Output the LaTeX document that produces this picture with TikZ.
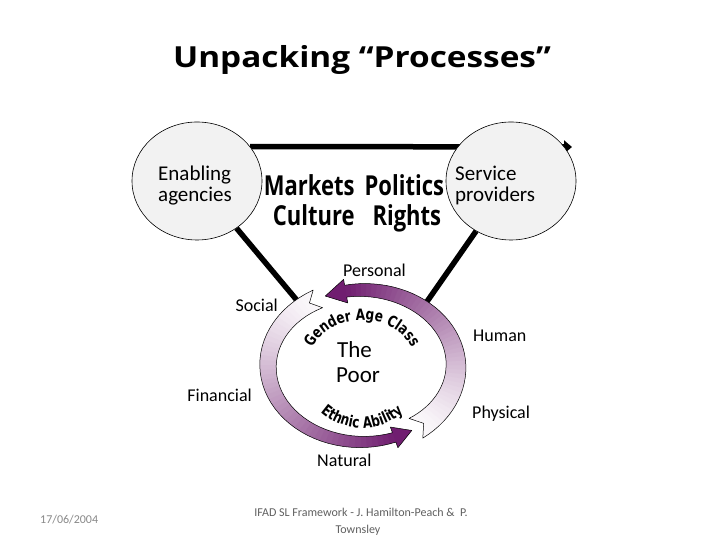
\documentclass[tikz,border=0pt]{standalone}
\usepackage{fontspec}
\setmainfont{Carlito}
\newfontfamily\titlefont[FakeStretch=1.15]{Open Sans}
\newfontfamily\wordfont[FakeStretch=0.8]{Open Sans}
\newfontfamily\curvefont[FakeStretch=0.78]{DejaVu Sans}
\usetikzlibrary{arrows.meta,backgrounds,shapes.geometric,decorations.text}
\definecolor{ringpurple}{RGB}{112,30,112}
\definecolor{ringlight}{RGB}{250,247,250}
\definecolor{discfill}{RGB}{242,242,242}
\definecolor{footgray}{RGB}{96,96,96}
\definecolor{dategray}{RGB}{137,137,137}
\tikzset{
  disc/.style={ellipse, draw, line width=0.6pt, fill=discfill,
    minimum width=130pt, minimum height=118pt, inner sep=0pt},
  tie/.style={line width=5.5pt},
  ringedge/.style={draw=black, line width=0.5pt, line join=round},
  titletext/.style={font=\titlefont\bfseries\fontsize{29}{29}\selectfont, anchor=base, inner sep=0pt},
  wordtext/.style={font=\wordfont\bfseries\fontsize{27.5}{27.5}\selectfont, anchor=base, inner sep=0pt},
  bigtext/.style={font=\fontsize{21}{21}\selectfont, anchor=base west, inner sep=0pt},
  lbl/.style={font=\fontsize{18}{18}\selectfont, inner sep=0pt},
  poortext/.style={font=\fontsize{23}{23}\selectfont, anchor=base west, inner sep=0pt},
  foottext/.style={font=\fontsize{12}{12}\selectfont, inner sep=0pt, text=footgray},
}
\newcommand\curvestyle{\curvefont\bfseries\fontsize{15.5}{15.5}\selectfont}
% band arrow on the ring: tail angle, head angle, tip angle, tail width, head width
\newcommand\ringarrow[5]{%
  \pgfmathsetmacro\tn{#1+6}
  \fill[ringlight] (#1:{94+#4/2} and {76+#4/2}) -- (\tn:{94+#4/2} and {76+#4/2})
    -- (\tn:{94-#4/2} and {76-#4/2}) -- (#1:{94-#4/2} and {76-#4/2}) -- (\tn:94 and 76) -- cycle;
  \foreach \i in {0,...,47}{
    \pgfmathsetmacro\ta{\tn+(#2-(\tn))*\i/48}
    \pgfmathsetmacro\tb{\tn+(#2-(\tn))*(\i+1)/48+0.4}
    \pgfmathsetmacro\wa{#5+(#4-#5)*(#2-(\ta))/(#2-(#1))}
    \pgfmathsetmacro\wb{#5+(#4-#5)*(#2-(\tb))/(#2-(#1))}
    \pgfmathsetmacro\mx{100*((\i+0.5)/48)^1.2}
    \fill[ringpurple!\mx!ringlight] (\ta:{94+\wa/2} and {76+\wa/2}) -- (\tb:{94+\wb/2} and {76+\wb/2})
      -- (\tb:{94-\wb/2} and {76-\wb/2}) -- (\ta:{94-\wa/2} and {76-\wa/2}) -- cycle;
  }
  \fill[ringpurple] (#2:{94+#5/2+6} and {76+#5/2+6}) -- (#3:94 and 76) -- (#2:{94-#5/2-6} and {76-#5/2-6}) -- cycle;
  \draw[ringedge] (#1:{94+#4/2} and {76+#4/2})
    -- plot[domain=#1:#2, samples=40, variable=\ang]
       (\ang:{94+(#5+(#4-#5)*(#2-(\ang))/(#2-(#1)))/2} and {76+(#5+(#4-#5)*(#2-(\ang))/(#2-(#1)))/2})
    -- (#2:{94+#5/2+6} and {76+#5/2+6}) -- (#3:94 and 76) -- (#2:{94-#5/2-6} and {76-#5/2-6})
    -- plot[domain=#2:#1, samples=40, variable=\ang]
       (\ang:{94-(#5+(#4-#5)*(#2-(\ang))/(#2-(#1)))/2} and {76-(#5+(#4-#5)*(#2-(\ang))/(#2-(#1)))/2})
    -- (\tn:94 and 76) -- cycle;
}

\begin{document}
\begin{tikzpicture}[x=1pt, y=1pt]
  \useasboundingbox (0,0) rectangle (720,540);
  \node[titletext] (title) at (362,472) {Unpacking “Processes”};
  % agencies and providers
  \node[disc] (enab) at (197,359) {};
  \node[disc] (serv) at (511,359) {};
  \node[bigtext] (enabA) at (158,359) {Enabling};
  \node[bigtext] (enabB) at (158,338) {agencies};
  \node[bigtext] (servA) at (455,359) {Service};
  \node[bigtext] (servB) at (455,338) {providers};
  \node[wordtext] (mkt) at (354,344) {Markets\hspace{10pt}Politics};
  \node[wordtext] (cult) at (357,314) {Culture\hspace{18pt}Rights};
  % links, behind the discs
  \coordinate (topend) at (572,393);
  \coordinate (ringL) at (300,236);
  \coordinate (ringR) at (426,237);
  \begin{scope}[on background layer]
    \fill[white] (0,0) rectangle (720,540);
    \draw[tie, -{Triangle[length=8pt,width=13pt]}] (enab.33) -- (topend);
    \draw[tie] (enab) -- (ringL);
    \draw[tie] (serv) -- (ringR);
  \end{scope}
  % the ring of assets
  \begin{scope}[shift={(362,174)}]
    \ringarrow{-55}{100}{113}{24}{12}
    \ringarrow{118}{290}{302}{20}{10}
    \path[decorate, decoration={text along path, text align=center,
      text={|\curvestyle|Gender Age Class}}]
      (158:54 and 46) arc[start angle=158, end angle=22, x radius=54pt, y radius=46pt];
    \path[decorate, decoration={text along path, text align=center,
      text={|\curvestyle|Ethnic Ability}}]
      (215:62 and 62) arc[start angle=215, end angle=325, x radius=62pt, y radius=62pt];
  \end{scope}
  \node[poortext] (poorA) at (337,182) {The};
  \node[poortext] (poorB) at (336,157) {Poor};
  % capitals
  \node[lbl, anchor=base west] (pers) at (343,263) {Personal};
  \node[lbl, anchor=base east] (soc) at (278,228.5) {Social};
  \node[lbl, anchor=base east] (fin) at (252,138) {Financial};
  \node[lbl, anchor=base west] (hum) at (473,198) {Human};
  \node[lbl, anchor=base west] (phys) at (472,121) {Physical};
  \node[lbl, anchor=base west] (nat) at (317,73) {Natural};
  % footer
  \node[foottext, text=dategray, anchor=base west] (date) at (40,16) {17/06/2004};
  \node[foottext, anchor=base] (footA) at (361,23) {IFAD SL Framework - J. Hamilton-Peach \& \ P.};
  \node[foottext, anchor=base] (footB) at (358,6) {Townsley};
\end{tikzpicture}
\end{document}
